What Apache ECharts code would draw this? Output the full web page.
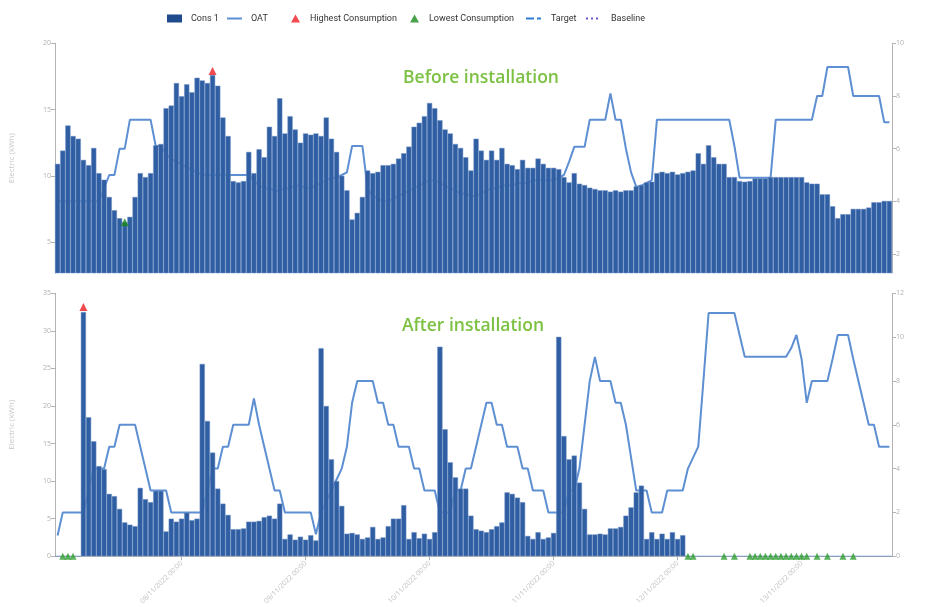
<!DOCTYPE html>
<html>
<head>
<meta charset="utf-8">
<script src="https://cdn.jsdelivr.net/npm/echarts@6/dist/echarts.min.js"></script>
<style>html,body{margin:0;padding:0;background:#fff}#c{width:941px;height:607px}</style>
</head>
<body>
<div id="c"></div>
<script>
// ---------- DATA ----------
const topCons = [
  10.9, 11.9, 13.8, 13.0, 12.8, 11.2, 10.8, 12.1, 10.2, 9.7,
  8.4, 7.4, 6.8, 6.5, 6.9, 8.4, 10.2, 9.9, 10.2, 12.3,
  12.4, 15.1, 15.3, 17.0, 16.0, 16.9, 16.3, 17.4, 17.2, 17.0,
  17.6, 16.8, 14.4, 13.0, 9.6, 9.5, 9.6, 11.8, 10.2, 12.0,
  11.4, 13.7, 13.0, 15.85, 13.2, 14.5, 13.5, 12.5, 13.2, 13.1,
  13.2, 13.0, 14.4, 12.8, 11.8, 10.0, 8.9, 6.7, 7.2, 8.4,
  10.4, 10.2, 10.3, 10.8, 10.8, 10.9, 11.3, 11.7, 12.2, 13.7,
  14.0, 14.5, 15.5, 15.1, 14.2, 13.5, 13.2, 12.4, 12.1, 11.4,
  10.4, 12.8, 11.9, 11.2, 11.9, 11.2, 12.1, 10.9, 10.8, 10.5,
  11.2, 10.6, 10.6, 11.3, 10.9, 10.6, 10.6, 10.5, 9.9, 9.5,
  10.2, 9.4, 9.3, 9.1, 9.0, 8.9, 8.9, 8.8, 8.9, 8.8,
  8.9, 8.9, 9.2, 9.3, 9.5, 9.55, 10.2, 10.3, 10.2, 10.3,
  10.1, 10.2, 10.3, 10.4, 11.7, 10.9, 12.3, 11.4, 10.9, 10.9,
  9.9, 9.9, 9.6, 9.55, 9.6, 9.8, 9.8, 9.8, 9.9, 9.9,
  9.9, 9.9, 9.9, 9.9, 9.9, 9.5, 9.4, 9.4, 8.6, 8.6,
  7.7, 6.8, 7.1, 7.1, 7.5, 7.5, 7.5, 7.6, 8.0, 8.0,
  8.1, 8.1
];
const topOat = [
  4.0, 4.0, 4.0, 4.0, 4.0, 4.0, 4.0, 4.0, 4.0, 4.5,
  5.0, 5.0, 6.0, 6.0, 7.1, 7.1, 7.1, 7.1, 7.1, 6.1,
  6.1, 5.8, 5.6, 5.5, 5.4, 5.3, 5.2, 5.1, 5.0, 5.0,
  5.0, 5.0, 5.0, 5.0, 5.0, 5.0, 5.0, 5.0, 4.8, 4.6,
  4.5, 4.5, 4.4, 4.4, 4.5, 4.5, 4.6, 4.6, 4.5, 4.5,
  4.6, 4.7, 4.8, 4.9, 4.9, 5.0, 5.1, 6.1, 6.1, 6.1,
  4.5, 4.2, 4.1, 4.0, 4.0, 4.1, 4.2, 4.3, 4.4, 4.5,
  4.6, 4.7, 4.8, 4.8, 4.7, 4.6, 4.5, 4.4, 4.3, 4.3,
  4.2, 4.2, 4.3, 4.4, 4.5, 4.5, 4.6, 4.6, 4.6, 4.7,
  4.7, 4.7, 4.8, 4.8, 4.8, 4.8, 4.8, 4.9, 5.0, 5.5,
  6.07, 6.07, 6.07, 7.1, 7.1, 7.1, 7.1, 8.1, 7.1, 7.1,
  6.0, 5.1, 4.55, 4.6, 4.7, 4.8, 7.1, 7.1, 7.1, 7.1,
  7.1, 7.1, 7.1, 7.1, 7.1, 7.1, 7.1, 7.1, 7.1, 7.1,
  7.1, 6.1, 4.9, 4.9, 4.9, 4.9, 4.9, 4.9, 4.9, 7.1,
  7.1, 7.1, 7.1, 7.1, 7.1, 7.1, 7.1, 8.0, 8.0, 9.1,
  9.1, 9.1, 9.1, 9.1, 8.0, 8.0, 8.0, 8.0, 8.0, 8.0,
  7.0, 7.0
];
const bottomCons = [
  0, 0, 0, 0, 0, 32.5, 18.5, 15.3, 12.0, 11.6,
  8.3, 8.0, 6.3, 4.5, 4.2, 4.0, 9.1, 7.6, 7.2, 8.7,
  8.7, 3.3, 5.0, 4.6, 5.0, 5.8, 4.8, 5.0, 25.6, 18.0,
  13.8, 9.0, 7.0, 5.5, 3.6, 3.6, 3.7, 4.6, 4.6, 4.7,
  5.2, 5.4, 5.0, 7.0, 2.3, 2.9, 2.2, 2.6, 2.2, 2.8,
  2.1, 27.7, 20.0, 12.9, 10.0, 6.7, 3.0, 3.1, 2.9, 2.3,
  2.5, 3.9, 2.3, 2.5, 4.0, 5.0, 5.0, 6.8, 2.3, 3.2,
  2.4, 3.0, 2.3, 3.2, 27.9, 16.9, 12.5, 10.5, 9.0, 9.0,
  5.4, 3.6, 3.4, 3.2, 3.6, 4.0, 4.5, 8.5, 8.3, 7.8,
  7.2, 2.7, 2.3, 3.2, 2.3, 2.5, 3.1, 29.2, 16.0, 12.9,
  13.4, 9.8, 6.3, 2.9, 2.9, 3.0, 2.9, 3.7, 3.7, 3.9,
  5.4, 6.5, 8.5, 9.4, 2.3, 3.2, 2.3, 3.0, 2.3, 3.2,
  2.3, 2.8, 0, 0, 0, 0, 0, 0, 0, 0,
  0, 0, 0, 0, 0, 0, 0, 0, 0, 0,
  0, 0, 0, 0, 0, 0, 0, 0, 0, 0,
  0, 0, 0, 0, 0, 0, 0, 0, 0, 0,
  0, 0
];
const bottomOat = [
  0.95, 2.0, 2.0, 2.0, 2.0, 2.0, 3.0, 4.0, 4.0, 4.0,
  5.0, 5.0, 6.0, 6.0, 6.0, 6.0, 5.0, 4.0, 3.0, 3.0,
  3.0, 3.0, 2.0, 2.0, 2.0, 2.0, 2.0, 2.0, 2.0, 3.0,
  4.0, 4.0, 5.0, 5.0, 6.0, 6.0, 6.0, 6.0, 7.2, 6.0,
  5.0, 4.0, 3.0, 3.0, 2.0, 2.0, 2.0, 2.0, 2.0, 2.0,
  1.0, 2.0, 2.5, 3.0, 3.5, 4.0, 5.0, 7.0, 8.0, 8.0,
  8.0, 8.0, 7.0, 7.0, 6.0, 6.0, 5.0, 5.0, 5.0, 4.0,
  4.0, 3.0, 3.0, 3.0, 2.0, 2.0, 2.0, 3.0, 3.0, 4.0,
  4.0, 5.0, 6.0, 7.0, 7.0, 6.0, 6.0, 5.0, 5.0, 5.0,
  4.0, 4.0, 3.0, 3.0, 3.0, 2.0, 2.0, 2.0, 2.0, 3.0,
  3.0, 4.0, 6.0, 8.0, 9.1, 8.0, 8.0, 8.0, 7.0, 7.0,
  6.0, 4.5, 3.0, 3.0, 3.0, 2.0, 2.0, 2.0, 3.0, 3.0,
  3.0, 3.0, 4.0, 4.5, 5.0, 8.0, 11.1, 11.1, 11.1, 11.1,
  11.1, 11.1, 10.1, 9.1, 9.1, 9.1, 9.1, 9.1, 9.1, 9.1,
  9.1, 9.1, 9.5, 10.1, 9.0, 7.0, 8.0, 8.0, 8.0, 8.0,
  9.0, 10.1, 10.1, 10.1, 9.0, 8.0, 7.0, 6.0, 6.0, 5.0,
  5.0, 5.0
];
// indices of the "Lowest Consumption" markers
const topLowIdx = [13];
const bottomLowIdx = [1, 2, 3, 122, 123, 129, 131, 134, 135, 136, 137, 138, 139, 140, 141, 142, 143, 144, 145, 147, 149, 152, 154];
// tick labels
const leftTopTicks = [5, 10, 15, 20];
const rightTopTicks = [2, 4, 6, 8, 10];
const topStart = Date.UTC(2022, 9, 3, 0, 0);
const bottomStart = Date.UTC(2022, 10, 7, 0, 0);

function hourly(start, n) {
  const out = [];
  const p = v => (v < 10 ? '0' : '') + v;
  for (let i = 0; i < n; i++) {
    const d = new Date(start + i * 3600000);
    out.push(p(d.getUTCDate()) + '/' + p(d.getUTCMonth() + 1) + '/' + d.getUTCFullYear() + ' ' + p(d.getUTCHours()) + ':' + p(d.getUTCMinutes()));
  }
  return out;
}
const topCategories = hourly(topStart, topCons.length);
const bottomCategories = hourly(bottomStart, bottomCons.length);

function maxPoint(arr) {
  let m = 0;
  arr.forEach((v, i) => { if (v > arr[m]) m = i; });
  return [[m, arr[m]]];
}
function pts(idx, arr) { return idx.map(i => [i, arr[i]]); }

// ---------- STYLE ----------
const BAR = '#2f5ea2';
const BAR_EDGE = '#7093c7';
const OATC = '#5d8fd2';
const AX = '#b3b3b3';
const LAB = '#b0b0b0';
const LEGF = "'Liberation Sans Narrow', 'Roboto', sans-serif";
const TF = "'Open Sans', 'Noto Sans', sans-serif";

const chart = echarts.init(document.getElementById('c'));

function leg(left, item, w, h, pad) {
  return {
    left: left, top: 9, itemWidth: w, itemHeight: h, selectedMode: false,
    symbolKeepAspect: false,
    textStyle: { color: '#333', fontSize: 9, fontFamily: LEGF, padding: [0, 0, 0, pad] },
    data: [item]
  };
}

const labelDays = (i) => i > 0 && i % 24 === 0;

const barStyle = { color: BAR, borderColor: BAR_EDGE, borderWidth: 0.5 };

const option = {
  animation: false,
  backgroundColor: '#ffffff',
  graphic: [
    { type: 'text', x: 481, y: 78, z: 100,
      style: { text: 'Before installation', fill: '#7cc142', font: "600 17.5px " + TF, textAlign: 'center', textVerticalAlign: 'middle', align: 'center', verticalAlign: 'middle' } },
    { type: 'text', x: 473, y: 326, z: 100,
      style: { text: 'After installation', fill: '#7cc142', font: "600 17.5px " + TF, textAlign: 'center', textVerticalAlign: 'middle', align: 'center', verticalAlign: 'middle' } }
  ],
  legend: [
    leg(162, { name: 'Cons 1', icon: 'rect', itemStyle: { color: '#1f4b8c', borderWidth: 0 } }, 15, 8, 4),
    leg(222, { name: 'OAT', icon: 'path://M0,0H15V2H0Z', itemStyle: { color: OATC } }, 15, 2, 4),
    leg(286, { name: 'Highest Consumption', icon: 'triangle', itemStyle: { color: '#ee1c24' } }, 9, 8, 5),
    leg(405, { name: 'Lowest Consumption', icon: 'triangle', itemStyle: { color: '#1b8a1b' } }, 9, 8, 5),
    leg(521, { name: 'Target', icon: 'path://M0,0H8V2H0Z M11,0H15V2H11Z', itemStyle: { color: '#2f7bd6' } }, 15, 2, 5),
    leg(581, { name: 'Baseline', icon: 'path://M0,0H2V2H0Z M5,0H7V2H5Z M10,0H12V2H10Z', itemStyle: { color: '#6a55d8' } }, 12, 2, 8)
  ],
  grid: [
    { left: 53, right: 49, top: 43.3, bottom: 334 },
    { left: 53, right: 49, top: 293.3, bottom: 49.3 }
  ],
  xAxis: [
    { type: 'category', gridIndex: 0, data: topCategories, boundaryGap: true,
      axisLine: { show: false }, axisTick: { show: false }, axisLabel: { show: false }, splitLine: { show: false } },
    { type: 'category', gridIndex: 1, data: bottomCategories, boundaryGap: true,
      axisLine: { show: true, lineStyle: { color: AX } },
      axisTick: { show: true, alignWithLabel: true, interval: labelDays, length: 4, lineStyle: { color: AX } },
      axisLabel: { interval: labelDays, rotate: 45, fontSize: 7, color: '#c2c2c2', margin: 6, fontFamily: TF },
      splitLine: { show: false } }
  ],
  yAxis: [
    { type: 'value', gridIndex: 0, min: 2.66, max: 20,
      name: 'Electric (kWh)', nameLocation: 'middle', nameGap: 39,
      nameTextStyle: { color: '#c8c8c8', fontSize: 8, fontFamily: TF },
      axisLine: { show: true, lineStyle: { color: AX } },
      axisTick: { show: true, customValues: leftTopTicks, length: 4, lineStyle: { color: AX } },
      axisLabel: { customValues: leftTopTicks, fontSize: 7, color: LAB, margin: 4, fontFamily: TF },
      splitLine: { show: false } },
    { type: 'value', gridIndex: 0, position: 'right', min: 1.28, max: 10,
      axisLine: { show: true, lineStyle: { color: AX } },
      axisTick: { show: true, customValues: rightTopTicks, length: 4, lineStyle: { color: AX } },
      axisLabel: { customValues: rightTopTicks, fontSize: 7, color: LAB, margin: 4, fontFamily: TF },
      splitLine: { show: false } },
    { type: 'value', gridIndex: 1, min: 0, max: 35, interval: 5,
      name: 'Electric (kWh)', nameLocation: 'middle', nameGap: 39,
      nameTextStyle: { color: '#c8c8c8', fontSize: 8, fontFamily: TF },
      axisLine: { show: true, lineStyle: { color: AX } },
      axisTick: { show: true, length: 4, lineStyle: { color: AX } },
      axisLabel: { fontSize: 7, color: LAB, margin: 4, fontFamily: TF },
      splitLine: { show: false } },
    { type: 'value', gridIndex: 1, position: 'right', min: 0, max: 12, interval: 2,
      axisLine: { show: true, lineStyle: { color: AX } },
      axisTick: { show: true, length: 4, lineStyle: { color: AX } },
      axisLabel: { fontSize: 7, color: LAB, margin: 4, fontFamily: TF },
      splitLine: { show: false } }
  ],
  series: [
    { name: 'OAT', type: 'line', xAxisIndex: 0, yAxisIndex: 1, data: topOat, z: 1,
      symbol: 'none', lineStyle: { color: OATC, width: 2 }, itemStyle: { color: OATC } },
    { name: 'Cons 1', type: 'bar', xAxisIndex: 0, yAxisIndex: 0, data: topCons, z: 3,
      barCategoryGap: '0%', itemStyle: barStyle },
    { name: 'Highest Consumption', type: 'scatter', xAxisIndex: 0, yAxisIndex: 0, data: maxPoint(topCons), z: 5,
      symbol: 'triangle', symbolSize: 8, symbolOffset: [0, -4], itemStyle: { color: '#ee1c24' } },
    { name: 'Lowest Consumption', type: 'scatter', xAxisIndex: 0, yAxisIndex: 0, data: pts(topLowIdx, topCons), z: 5,
      symbol: 'triangle', symbolSize: 8, itemStyle: { color: '#1b8a1b' } },

    { name: 'OAT', type: 'line', xAxisIndex: 1, yAxisIndex: 3, data: bottomOat, z: 1,
      symbol: 'none', lineStyle: { color: OATC, width: 2 }, itemStyle: { color: OATC } },
    { name: 'Cons 1', type: 'bar', xAxisIndex: 1, yAxisIndex: 2, data: bottomCons, z: 3,
      barCategoryGap: '0%', itemStyle: barStyle },
    { name: 'Highest Consumption', type: 'scatter', xAxisIndex: 1, yAxisIndex: 2, data: maxPoint(bottomCons), z: 5,
      symbol: 'triangle', symbolSize: 8, symbolOffset: [0, -5], itemStyle: { color: '#ee1c24' } },
    { name: 'Lowest Consumption', type: 'scatter', xAxisIndex: 1, yAxisIndex: 2, data: pts(bottomLowIdx, bottomCons), z: 5,
      symbol: 'triangle', symbolSize: 7, itemStyle: { color: '#2f9e2f' } },

    { name: 'Target', type: 'line', xAxisIndex: 1, yAxisIndex: 2, data: [], symbol: 'none',
      lineStyle: { color: '#2f7bd6', width: 2, type: [8, 4] }, itemStyle: { color: '#2f7bd6' } },
    { name: 'Baseline', type: 'line', xAxisIndex: 1, yAxisIndex: 2, data: [], symbol: 'none',
      lineStyle: { color: '#6a55d8', width: 2, type: [2, 3] }, itemStyle: { color: '#6a55d8' } }
  ]
};
chart.setOption(option);
</script>
</body>
</html>
